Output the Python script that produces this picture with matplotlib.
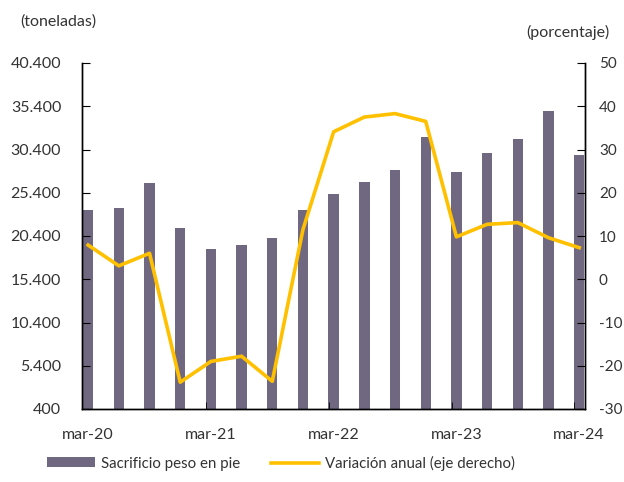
import numpy as np
import matplotlib.pyplot as plt
from matplotlib.ticker import FuncFormatter

plt.rcParams['font.family'] = ['Lato', 'DejaVu Sans']
plt.rcParams['axes.unicode_minus'] = False

quarters = ['mar-20', 'jun-20', 'sep-20', 'dic-20',
            'mar-21', 'jun-21', 'sep-21', 'dic-21',
            'mar-22', 'jun-22', 'sep-22', 'dic-22',
            'mar-23', 'jun-23', 'sep-23', 'dic-23',
            'mar-24']
sacrificio = [23350, 23650, 26500, 21350, 18950, 19400, 20150, 23350,
              25300, 26650, 28000, 31800, 27800, 29950, 31650, 34800, 29800]
variacion = [7.9, 3.1, 6.0, -23.8, -19.0, -17.8, -23.6, 11.5,
             34.1, 37.5, 38.3, 36.5, 9.8, 12.7, 13.1, 9.6, 7.3]
xlabels = ['mar-20', 'mar-21', 'mar-22', 'mar-23', 'mar-24']

bar_color = '#706880'
line_color = '#FFC000'
text_color = '#333333'

fig = plt.figure(figsize=(6.24, 4.82), dpi=100)
ax = fig.add_axes([82/624, 1-409/482, (585-82)/624, (409-63)/482])
ax2 = ax.twinx()

x = np.arange(len(quarters))
bars = ax.bar(x, sacrificio, width=0.34, color=bar_color, bottom=0, zorder=1)
line, = ax2.plot(x, variacion, color=line_color, lw=2.6, zorder=3)
ax.set_zorder(ax2.get_zorder() - 1)
ax2.patch.set_visible(False)

ax.set_xlim(-0.2, 16.19)
ax.set_ylim(400, 40400)
ax.set_yticks(np.arange(400, 40401, 5000))
ax.yaxis.set_major_formatter(FuncFormatter(lambda v, p: f'{int(v):,}'.replace(',', '.')))
ax2.set_ylim(-30, 50)
ax2.set_yticks(np.arange(-30, 51, 10))

ax.set_xticks([0, 4, 8, 12, 16])
ax.set_xticklabels(xlabels)
ax.set_xticks([3.84, 7.84, 11.84, 15.84], minor=True)
ax.tick_params(axis='x', which='major', length=0, pad=14, labelsize=11.5, colors=text_color)
ax.tick_params(axis='x', which='minor', direction='in', length=5, color='black')
ax.tick_params(axis='y', direction='in', length=6, labelsize=11.5, pad=15, colors=text_color)
ax2.tick_params(axis='y', direction='in', length=6, labelsize=11, pad=10, colors=text_color)
for a in (ax, ax2):
    a.tick_params(axis='y', color='black')
    a.spines['top'].set_visible(False)
    for s in ('left', 'right', 'bottom'):
        a.spines[s].set_color('black')
        a.spines[s].set_linewidth(1.0)

fig.text(20/624, 1-22/482, '(toneladas)', fontsize=11.5, color=text_color, va='center')
fig.text(526/624, 1-32/482, '(porcentaje)', fontsize=11.5, color=text_color, va='center')

fig.legend([bars, line], ['Sacrificio peso en pie', 'Variación anual (eje derecho)'],
           loc='center', bbox_to_anchor=(281/624, 1-463/482), ncol=2, frameon=False,
           fontsize=10.8, handlelength=3.2, handleheight=0.6, columnspacing=2.0,
           handletextpad=0.4, labelcolor=text_color)

fig.savefig('out.png', dpi=100)
